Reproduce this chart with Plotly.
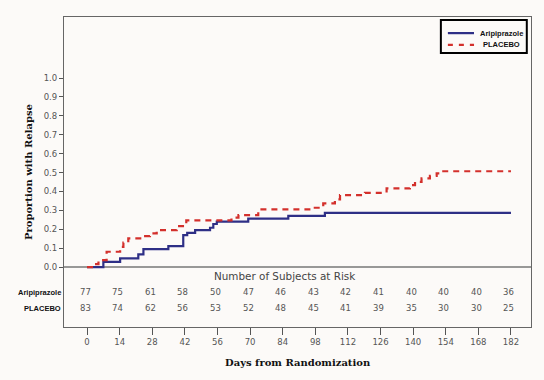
import plotly.graph_objects as go

# Kaplan-Meier step data (days, cumulative proportion with relapse)
ari_days = [0, 7, 14.2, 22, 24.2, 34.9, 41.3, 43, 46.4, 52.8, 54.2, 55.7, 69.2, 86.4, 102.1, 182]
ari_vals = [0, 0.028, 0.046, 0.067, 0.095, 0.111, 0.169, 0.181, 0.196, 0.208, 0.228, 0.24, 0.256, 0.271, 0.287, 0.287]

pla_days = [0, 2.7, 4.9, 8.4, 14.2, 15.6, 17.7, 23.5, 27, 29.9, 38.5, 42.6, 62, 65, 73.5,
            96.4, 101.4, 106.4, 108.6, 119.3, 128.6, 138.6, 140.8, 143.6, 147.2, 150.1, 152.2, 182]
pla_vals = [0, 0.016, 0.037, 0.081, 0.107, 0.129, 0.152, 0.164, 0.178, 0.196, 0.217, 0.247, 0.262, 0.275, 0.305,
            0.314, 0.337, 0.358, 0.381, 0.393, 0.416, 0.434, 0.451, 0.469, 0.483, 0.496, 0.507, 0.507]

risk_days = [0, 14, 28, 42, 56, 70, 84, 98, 112, 126, 140, 154, 168, 182]
ari_risk = [77, 75, 61, 58, 50, 47, 46, 43, 42, 41, 40, 40, 40, 36]
pla_risk = [83, 74, 62, 56, 53, 52, 48, 45, 41, 39, 35, 30, 30, 25]

y_ticks = [0, 0.1, 0.2, 0.3, 0.4, 0.5, 0.6, 0.7, 0.8, 0.9, 1.0]

series_names = ["Aripiprazole", "PLACEBO"]
BLUE = "#2e2f86"
RED = "#d3302c"
BG = "#fcfaf8"
TICK = "#555555"

fig = go.Figure()
fig.add_trace(go.Scatter(x=ari_days, y=ari_vals, mode="lines", line_shape="hv",
                         name=series_names[0], line=dict(color=BLUE, width=2.2)))
fig.add_trace(go.Scatter(x=pla_days, y=pla_vals, mode="lines", line_shape="hv",
                         name=series_names[1], line=dict(color=RED, width=2.2, dash="6px,5px")))

shapes = []
# zero line / separator
shapes.append(dict(type="line", xref="paper", yref="y", x0=0, x1=1, y0=0, y1=0,
                   line=dict(color="#777777", width=1.5), layer="below"))
# legend box
shapes.append(dict(type="rect", xref="paper", yref="paper", x0=0.807, x1=0.991, y0=0.884, y1=0.990,
                   line=dict(color="#000000", width=2), fillcolor=BG))
shapes.append(dict(type="line", xref="paper", yref="paper", x0=0.822, x1=0.878, y0=0.948, y1=0.948,
                   line=dict(color=BLUE, width=2.2)))
shapes.append(dict(type="line", xref="paper", yref="paper", x0=0.822, x1=0.878, y0=0.910, y1=0.910,
                   line=dict(color=RED, width=2.2, dash="5px,6px")))

ann = []
ann.append(dict(text="<b>%s</b>" % series_names[0], xref="paper", yref="paper", x=0.936, y=0.948,
                xanchor="center", yanchor="middle", showarrow=False,
                font=dict(family="Liberation Sans", size=7.5, color="#111111")))
ann.append(dict(text="<b>%s</b>" % series_names[1], xref="paper", yref="paper", x=0.936, y=0.910,
                xanchor="center", yanchor="middle", showarrow=False,
                font=dict(family="Liberation Sans", size=7.5, color="#111111")))
ann.append(dict(text="Number of Subjects at Risk", xref="paper", yref="paper", x=0.472, y=0.139,
                showarrow=False, font=dict(family="DejaVu Sans", size=10.4, color="#444444")))
for d, a, p in zip(risk_days, ari_risk, pla_risk):
    ann.append(dict(text=str(a), xref="x", yref="paper", x=d, y=0.0903, xshift=-2, showarrow=False,
                    font=dict(family="DejaVu Sans", size=8.5, color="#555555")))
    ann.append(dict(text=str(p), xref="x", yref="paper", x=d, y=0.0387, xshift=-2, showarrow=False,
                    font=dict(family="DejaVu Sans", size=8.5, color="#555555")))
ann.append(dict(text="<b>%s</b>" % series_names[0], xref="paper", yref="paper", x=-0.003, y=0.0903,
                xanchor="right", showarrow=False, font=dict(family="Liberation Sans", size=7.5, color="#111111")))
ann.append(dict(text="<b>%s</b>" % series_names[1], xref="paper", yref="paper", x=-0.003, y=0.0387,
                xanchor="right", showarrow=False, font=dict(family="Liberation Sans", size=7.5, color="#111111")))
ann.append(dict(text="<b>Proportion with Relapse</b>", xref="paper", yref="paper", x=-0.077, y=0.5,
                xanchor="center", yanchor="middle", textangle=-90, showarrow=False,
                font=dict(family="DejaVu Serif", size=10, color="#111111")))
ann.append(dict(text="<b>Days from Randomization</b>", xref="paper", yref="paper", x=0.5, y=-0.113,
                xanchor="center", yanchor="middle", showarrow=False,
                font=dict(family="DejaVu Serif", size=10, color="#111111")))

fig.update_layout(
    width=544, height=380,
    margin=dict(l=64, r=13, t=17, b=53),
    paper_bgcolor=BG, plot_bgcolor=BG,
    showlegend=False,
    shapes=shapes,
    annotations=ann,
    xaxis=dict(range=[-9.9, 190.6], tickvals=risk_days, ticktext=[str(d) for d in risk_days],
               ticks="outside", ticklen=7, tickcolor=TICK, showgrid=False, zeroline=False,
               showline=True, linecolor="#666666", linewidth=1.2, mirror=True,
               tickfont=dict(family="DejaVu Sans", size=8.5, color=TICK)),
    yaxis=dict(range=[-0.317, 1.323], tickvals=y_ticks, ticktext=[f"{v:.1f}" for v in y_ticks],
               ticks="outside", ticklen=4, tickcolor=TICK, showgrid=False, zeroline=False,
               showline=True, linecolor="#666666", linewidth=1.2, mirror=True,
               tickfont=dict(family="DejaVu Sans", size=8.5, color=TICK)),
)

fig.write_html("out.html", config={"displayModeBar": False},
               post_script="document.body.style.margin='0';document.body.style.background='%s';" % BG)
